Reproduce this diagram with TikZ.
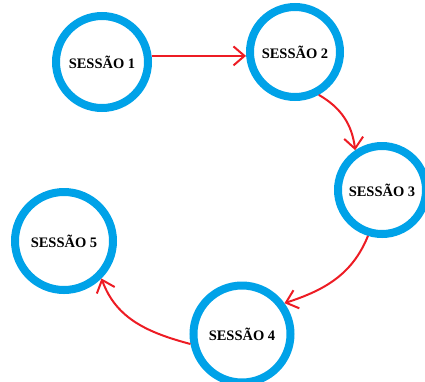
\documentclass[tikz,border=0pt]{standalone}
\usepackage{fontspec}
\setmainfont{Liberation Serif}
\usetikzlibrary{arrows.meta}
\definecolor{ringblue}{HTML}{00A2E8}
\definecolor{linkred}{HTML}{ED1C24}
\tikzset{
  session/.style={circle, draw=ringblue, line width=8pt, fill=white,
    inner sep=0pt, minimum size=#1,
    font=\fontsize{14.5}{17}\selectfont\bfseries},
  session/.default=92pt,
  link/.style={draw=linkred, line width=2pt,
    -{Straight Barb[length=11pt,width=19pt,line width=2pt]}}
}
\begin{document}
\begin{tikzpicture}[x=1pt,y=-1pt]
  \useasboundingbox (0,0) rectangle (425,381);
  \node[session=92pt]  (s1) at (102,62)  {SESSÃO 1};
  \node[session=90pt]  (s2) at (295,52)  {SESSÃO 2};
  \node[session=88pt]  (s3) at (382,190) {SESSÃO 3};
  \node[session=97pt]  (s4) at (242,334) {SESSÃO 4};
  \node[session=98pt]  (s5) at (64,241)  {SESSÃO 5};

  \draw[link] (s1.7) -- (s1.7 -| s2.west);
  \draw[link] (s2.-61) to[out=-30, in=97] (s3.124);
  \draw[link] (s3.-107) to[out=-112, in=18] (s4.36);
  \draw[link] (s4.-169) to[out=165, in=-70] (s5.-45);
\end{tikzpicture}
\end{document}
